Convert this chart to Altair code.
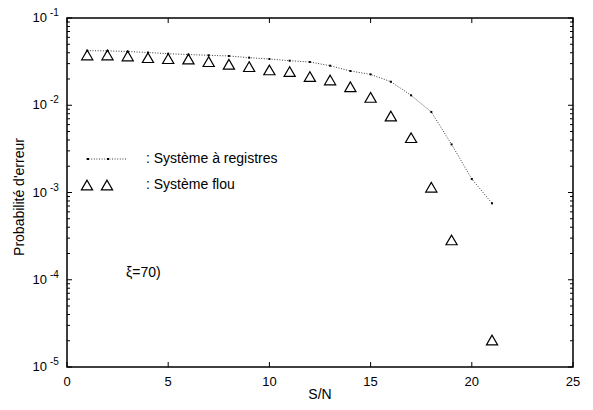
import altair as alt
import pandas as pd

# ---- data ----
sn_reg = list(range(1, 22))
p_reg = [0.0422, 0.0420, 0.0413, 0.0402, 0.0390, 0.0381, 0.0374, 0.0367, 0.0351,
         0.0339, 0.0324, 0.0313, 0.0284, 0.0247, 0.0226, 0.0186, 0.0130, 0.00838,
         0.00356, 0.00143, 0.000752]
sn_flou = [1, 2, 3, 4, 5, 6, 7, 8, 9, 10, 11, 12, 13, 14, 15, 16, 17, 18, 19, 21]
p_flou = [0.0377, 0.0377, 0.0367, 0.0351, 0.0342, 0.0339, 0.0316, 0.0295, 0.0277,
          0.0254, 0.0243, 0.0213, 0.0195, 0.0163, 0.0123, 0.00753, 0.00425, 0.00115,
          0.000286, 2.04e-5]

x_ticks = [0, 5, 10, 15, 20, 25]
y_decades = [1e-1, 1e-2, 1e-3, 1e-4, 1e-5]
y_exp = ["-1", "-2", "-3", "-4", "-5"]
minor_mult = [2, 3, 4, 5, 6, 7, 8, 9]
y_minor = [m * d for d in [1e-5, 1e-4, 1e-3, 1e-2] for m in minor_mult]

legend_labels = [": Système à registres", ": Système flou"]
annot = "ξ=70)"

W, H = 506, 349
FONT = "Liberation Sans"
FS = 14

xs = alt.Scale(domain=[0, 25], nice=False, zero=False)
ys = alt.Scale(type="log", domain=[1e-5, 1e-1], nice=False)

df_reg = pd.DataFrame({"sn": sn_reg, "p": p_reg})
df_flou = pd.DataFrame({"sn": sn_flou, "p": p_flou})
df_xt = pd.DataFrame({"v": x_ticks, "lab": [str(v) for v in x_ticks]})
df_yd = pd.DataFrame({"v": y_decades, "e": y_exp})
df_ym = pd.DataFrame({"v": y_minor})

X = alt.X("sn:Q", scale=xs, axis=None)
Y = alt.Y("p:Q", scale=ys, axis=None)

line = alt.Chart(df_reg).mark_line(color="#222222", strokeWidth=0.9, strokeDash=[1, 1.6]).encode(x=X, y=Y)
dots = alt.Chart(df_reg).mark_square(color="black", size=4, opacity=1).encode(x=X, y=Y)
tri = alt.Chart(df_flou).mark_point(shape="triangle-up", size=125, color="black",
                                    strokeWidth=1.2, filled=False, opacity=1).encode(x=X, y=Y)

XT = alt.X("v:Q", scale=xs, axis=None)
YT = alt.Y("v:Q", scale=ys, axis=None)

xt_bot = alt.Chart(df_xt).mark_rule(color="black", strokeWidth=1).encode(x=XT, y=alt.value(H), y2=alt.value(H - 5))
xt_top = alt.Chart(df_xt).mark_rule(color="black", strokeWidth=1).encode(x=XT, y=alt.value(0), y2=alt.value(5))
yt_l = alt.Chart(df_yd).mark_rule(color="black", strokeWidth=1).encode(y=YT, x=alt.value(0), x2=alt.value(5))
yt_r = alt.Chart(df_yd).mark_rule(color="black", strokeWidth=1).encode(y=YT, x=alt.value(W), x2=alt.value(W - 5))
ym_l = alt.Chart(df_ym).mark_rule(color="black", strokeWidth=1).encode(y=YT, x=alt.value(0), x2=alt.value(3))
ym_r = alt.Chart(df_ym).mark_rule(color="black", strokeWidth=1).encode(y=YT, x=alt.value(W), x2=alt.value(W - 3))

x_lab = alt.Chart(df_xt).mark_text(font=FONT, fontSize=13, baseline="middle", align="center").encode(
    x=XT, y=alt.value(H + 15), text="lab:N")
y_ten = alt.Chart(df_yd).mark_text(font=FONT, fontSize=13, baseline="middle", align="right", text="10").encode(
    y=YT, x=alt.value(-20))
y_e = alt.Chart(df_yd).mark_text(font=FONT, fontSize=10, baseline="middle", align="left", dy=-5).encode(
    y=YT, x=alt.value(-17), text="e:N")

title_df = pd.DataFrame({"t": ["S/N"]})
x_title = alt.Chart(title_df).mark_text(font=FONT, fontSize=FS, baseline="middle", align="center").encode(
    x=alt.value(W / 2), y=alt.value(H + 28), text="t:N")
ytitle_df = pd.DataFrame({"t": ["Probabilité d'erreur"]})
y_title = alt.Chart(ytitle_df).mark_text(font=FONT, fontSize=FS, baseline="middle", align="center", angle=270).encode(
    x=alt.value(-47), y=alt.value(179), text="t:N")

# legend (inside the axes)
leg_df1 = pd.DataFrame({"t": [legend_labels[0]]})
leg_df2 = pd.DataFrame({"t": [legend_labels[1]]})
leg_t1 = alt.Chart(leg_df1).mark_text(font=FONT, fontSize=FS, baseline="middle", align="left").encode(
    x=alt.value(79), y=alt.value(141), text="t:N")
leg_t2 = alt.Chart(leg_df2).mark_text(font=FONT, fontSize=FS, baseline="middle", align="left").encode(
    x=alt.value(79), y=alt.value(167), text="t:N")
leg_line = alt.Chart(leg_df1).mark_rule(color="#222222", strokeWidth=0.9, strokeDash=[1, 1.6]).encode(
    x=alt.value(19), x2=alt.value(59), y=alt.value(141))
leg_dots = alt.Chart(pd.DataFrame({"k": [0, 1]})).mark_square(color="black", size=4, opacity=1).encode(
    x=alt.X("k:Q", scale=alt.Scale(domain=[0, 1], range=[21, 41]), axis=None), y=alt.value(141))
leg_tri = alt.Chart(pd.DataFrame({"k": [0, 1]})).mark_point(shape="triangle-up", size=125, color="black",
                                                           strokeWidth=1.2, filled=False, opacity=1).encode(
    x=alt.X("k:Q", scale=alt.Scale(domain=[0, 1], range=[20, 40]), axis=None), y=alt.value(167))

ann_df = pd.DataFrame({"t": [annot]})
ann = alt.Chart(ann_df).mark_text(font=FONT, fontSize=FS, baseline="middle", align="left").encode(
    x=alt.value(59), y=alt.value(255), text="t:N")

chart = alt.layer(
    line, dots, tri, xt_bot, xt_top, yt_l, yt_r, ym_l, ym_r,
    x_lab, y_ten, y_e, x_title, y_title,
    leg_line, leg_dots, leg_tri, leg_t1, leg_t2, ann
).resolve_scale(x="independent").properties(
    width=W, height=H,
    autosize=alt.AutoSizeParams(type="none"),
    padding={"left": 59, "top": 10, "right": 12, "bottom": 36},
    background="white",
).configure_view(stroke="black", strokeWidth=1.5)

chart.save("out.html", embed_options={"renderer": "svg", "actions": False})
